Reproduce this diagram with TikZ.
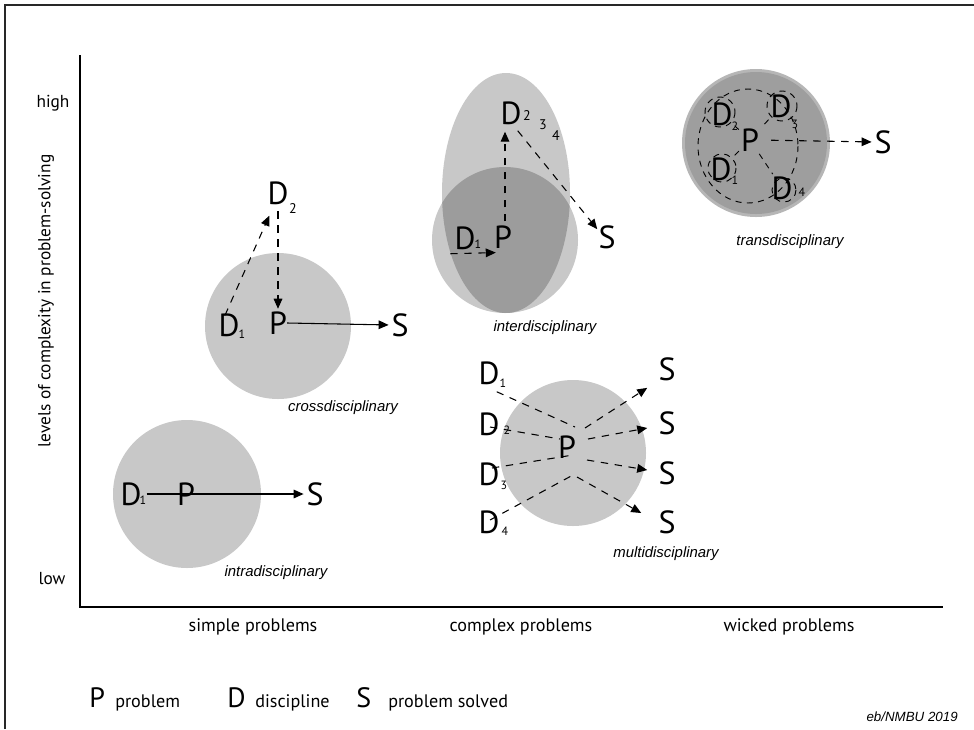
\documentclass[tikz,border=0pt]{standalone}
\usepackage{fontspec}
\newfontfamily\myr{PT Sans}
\newfontfamily\ari{Liberation Sans}
\usetikzlibrary{arrows.meta,calc}
\definecolor{lg}{RGB}{200,200,200}
\definecolor{dg}{RGB}{156,156,156}
\definecolor{tg}{RGB}{158,158,158}
\definecolor{trim}{RGB}{182,182,182}
\definecolor{fr}{RGB}{40,40,40}
\begin{document}
\begin{tikzpicture}[x=0.75pt,y=-0.75pt,
 big/.style={font=\myr\fontsize{24}{24}\selectfont,inner sep=0pt},
 sub/.style={font=\myr\fontsize{9}{9}\selectfont,inner sep=0pt},
 subl/.style={font=\myr\fontsize{10.5}{10.5}\selectfont,inner sep=0pt},
 lab/.style={font=\ari\itshape\fontsize{11.2}{11.2}\selectfont,inner sep=0pt},
 axl/.style={font=\myr\fontsize{13}{13}\selectfont,inner sep=0pt},
 axb/.style={font=\myr\fontsize{13.6}{13.6}\selectfont,inner sep=0pt},
 leg/.style={font=\myr\fontsize{21}{21}\selectfont,inner sep=0pt},
 dsh/.style={dash pattern=on 5.5pt off 5pt,line width=0.8pt},
 tdsh/.style={dash pattern=on 4.5pt off 4pt,line width=0.7pt},
 sol/.style={line width=0.8pt},
 tip/.style={-{Triangle[length=7.5pt,width=6.5pt]}}
]
\useasboundingbox (0,0) rectangle (974,729);
\fill[white] (0,0) rectangle (974,729);
\draw[fr,line width=0.9pt] (5,729) -- (5,5) -- (974,5);
\draw[line width=0.8pt] (80,55) -- (80,607) -- (943,607);

% axis texts
\node[axl] (hi) at (53,103) {high};
\node[axl] (lo) at (52,579) {low};
\node[axl,rotate=90] (yl) at (46,301) {levels of complexity in problem-solving};
\node[axb] (x1) at (253,627) {simple problems};
\node[axb] (x2) at (521,627) {complex problems};
\node[axb] (x3) at (789,627) {wicked problems};

% intradisciplinary
\fill[lg] (187,494) circle[radius=74];
\node[big] (Da) at (131,494) {D};
\node[sub] (da) at (143,500) {1};
\node[big] (Pa) at (186,494) {P};
\node[big] (Sa) at (315,494) {S};
\draw[sol,tip,shorten >=2pt] (da.east |- Sa.west) -- (Sa.west);
\node[lab] (la) at (276,573) {intradisciplinary};

% crossdisciplinary
\fill[lg] (278,326) circle[radius=73];
\node[big] (Db1) at (229,325) {D};
\node[sub] (db1) at (242,334) {1};
\node[big] (Pb) at (278,323) {P};
\node[big] (Sb) at (400,325) {S};
\node[big] (Db2) at (278,193) {D};
\node[subl] (db2) at (293,209) {2};
\draw[dsh,tip] ($(Db1.north)+(-4,2)$) -- ($(Db2.south west)+(2,11)$);
\draw[dsh,tip,shorten <=5pt,shorten >=2pt] (Db2.south) -- (Pb.north);
\draw[sol,tip,shorten >=2pt] (Pb.east) -- (Sb.west);
\node[lab] (lb) at (343,408) {crossdisciplinary};

% interdisciplinary
\fill[lg] (506,193) ellipse[x radius=64,y radius=120];
\fill[lg] (505,240) circle[radius=73];
\begin{scope}
\clip (506,193) ellipse[x radius=64,y radius=120];
\fill[dg] (505,240) circle[radius=73];
\end{scope}
\node[big] (Dc2) at (511,113) {D};
\node[subl] (dc2) at (527,116) {2};
\node[subl] (dc3) at (543,125) {3};
\node[subl] (dc4) at (556,136) {4};
\node[big] (Dc1) at (465,238) {D};
\node[sub] (dc1) at (478,244) {1};
\node[big] (Pc) at (503,237) {P};
\node[big] (Sc) at (607,237) {S};
\draw[dsh,tip] ($(Dc1.south west)+(-4,4)$) -- ($(Pc.south west)+(2,4)$);
\draw[dsh,tip] ($(Pc.north)+(2,-4)$) -- ($(Dc2.south)+(-6,7)$);
\draw[dsh,tip] ($(Dc2.south east)+(-4,6)$) -- ($(Sc.north west)+(-1,4)$);
\node[lab] (lc) at (545,328) {interdisciplinary};

% multidisciplinary
\fill[lg] (573,453) circle[radius=73];
\node[big] (Dd1) at (489,373) {D};
\node[sub] (dd1) at (503,383) {1};
\node[big] (Dd2) at (489,424) {D};
\node[sub] (dd2) at (507,430) {2};
\node[big] (Dd3) at (489,474) {D};
\node[sub] (dd3) at (504,485) {3};
\node[big] (Dd4) at (489,522) {D};
\node[sub] (dd4) at (505,531) {4};
\node[big] (Pd) at (567,447) {P};
\node[big] (Sd1) at (667,369) {S};
\node[big] (Sd2) at (667,423) {S};
\node[big] (Sd3) at (667,473) {S};
\node[big] (Sd4) at (667,522) {S};
\draw[dsh] ($(Dd1.south east)+(-3,7)$) -- ($(Pd)+(8,-20)$);
\draw[dsh] ($(Dd2)+(1,3)$) -- ($(Pd)+(-7,-8)$);
\draw[dsh] ($(Dd3)+(3,-6)$) -- ($(Pd)+(6,8)$);
\draw[dsh] ($(Dd4)+(1,-2)$) -- ($(Pd)+(6,28)$);
\draw[dsh,tip] ($(Pd)+(18,-19)$) -- ($(Sd1.south west)+(-11,7)$);
\draw[dsh,tip] ($(Pd)+(21,-8)$) -- ($(Sd2.west)+(-11,5)$);
\draw[dsh,tip] ($(Pd)+(20,13)$) -- ($(Sd3.west)+(-11,-3)$);
\draw[dsh,tip] ($(Pd)+(10,30)$) -- ($(Sd4.west)+(-17,-9)$);
\node[lab] (ld) at (666,554) {multidisciplinary};

% transdisciplinary
\fill[trim] (756,143) circle[radius=74];
\fill[tg] (756,143) circle[radius=71];
\draw[tdsh] (748,146) ellipse[x radius=50,y radius=57];
\node[big] (De2) at (722,114) {D};
\node[sub] (de2) at (735,126) {2};
\node[big] (De3) at (781,106) {D};
\node[sub] (de3) at (795,124) {3};
\node[big] (Pe) at (750,140) {P};
\node[big] (De1) at (721,169) {D};
\node[sub] (de1) at (735,180) {1};
\node[big] (De4) at (782,188) {D};
\node[sub] (de4) at (802,192) {4};
\node[big] (Se) at (883,142) {S};
\draw[tdsh] (720,112) circle[radius=15];
\draw[tdsh] (782,106) circle[radius=15];
\draw[tdsh] (722,168) circle[radius=14];
\draw[tdsh] (784,190) circle[radius=12];
\draw[tdsh,shorten <=2pt,shorten >=2pt] (De2) -- (Pe);
\draw[tdsh,shorten <=2pt,shorten >=2pt] (De3) -- (Pe);
\draw[tdsh,shorten <=2pt,shorten >=2pt] (Pe) -- (De1);
\draw[tdsh,shorten <=2pt,shorten >=2pt] (Pe) -- (De4);
\draw[dsh,tip,shorten <=9pt,shorten >=2pt] (Pe.east) -- (Se.west);
\node[lab] (le) at (790,242) {transdisciplinary};

% legend
\node[leg,anchor=base west] (LP) at (89,707) {P};
\node[axb,anchor=base west] (Lp) at (115,707) {problem};
\node[leg,anchor=base west] (LD) at (227,707) {D};
\node[axb,anchor=base west] (Ld) at (255,707) {discipline};
\node[leg,anchor=base west] (LS) at (356,707) {S};
\node[axb,anchor=base west] (Ls) at (388,707) {problem solved};
\node[lab,anchor=base east,font=\ari\itshape\fontsize{10}{10}\selectfont] (cr) at (958,721) {eb/NMBU 2019};
\end{tikzpicture}
\end{document}
